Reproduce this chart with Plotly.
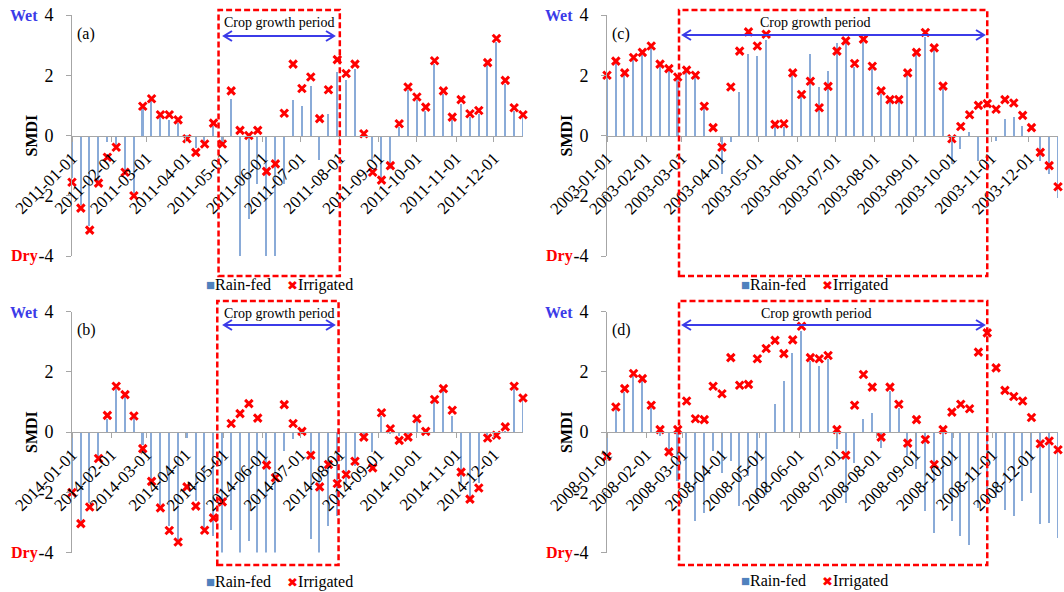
import plotly.graph_objects as go
import pandas as pd

# ---------------- data (weekly SMDI, 52 weeks per year) ----------------
years = {"a": 2011, "b": 2014, "c": 2003, "d": 2008}

a_rainfed = [-1.4, -2.3, -3.0, -1.5, -0.2, -0.3, -1.2, -1.9, 0.9, 1.15,
             0.6, 0.5, 0.4, -0.05, -0.4, -0.2, 0.3, -0.3, 1.22, -4.0,
             -2.78, -1.6, -4.0, -4.0, -1.61, 1.19, 0.97, 1.63, -0.8, 0.7,
             2.1, 1.83, 2.22, 0.0, -0.85, -1.45, -1.1, 0.28, 1.5, 1.17,
             0.83, 2.39, 1.39, 0.5, 1.05, 0.6, 0.72, 2.33, 3.1, 1.72,
             0.83, 0.6]
a_irrigated = [-1.55, -2.41, -3.14, -1.58, -0.72, -0.39, -1.22, -2.0, 0.97, 1.22,
               0.69, 0.69, 0.52, -0.11, -0.56, -0.28, 0.41, -0.28, 1.48, 0.17,
               0.0, 0.17, -1.19, -0.94, 0.74, 2.37, 1.56, 1.94, 0.56, 1.52,
               2.52, 2.06, 2.37, 0.06, -1.22, -1.48, -1.0, 0.39, 1.61, 1.28,
               0.94, 2.48, 1.48, 0.61, 1.19, 0.72, 0.83, 2.42, 3.22, 1.83,
               0.92, 0.69]

b_rainfed = [-1.94, -2.94, -2.33, -0.83, 0.45, 1.45, 1.17, 0.5, -0.4, -1.67,
             -2.39, -3.11, -3.56, -0.17, -2.28, -3.17, -3.44, -4.0, -3.22, -4.0,
             -3.61, -4.0, -4.0, -4.0, -0.61, -0.2, 0.05, -3.54, -4.0, -3.1,
             -2.76, -1.66, -1.1, -0.1, -0.66, 0.55, -0.05, -0.1, -0.05, 0.39,
             -0.05, 1.05, 1.38, 0.55, -1.66, -2.32, -1.66, -0.1, -0.05, 0.05,
             1.44, 1.1]
b_irrigated = [-2.01, -3.04, -2.49, -0.88, 0.55, 1.52, 1.24, 0.53, -0.55, -1.64,
               -2.52, -3.27, -3.65, -1.82, -2.46, -3.26, -2.85, -2.32, 0.28, 0.61,
               0.94, 0.46, -1.1, -1.52, 0.91, 0.28, 0.02, -0.77, -1.82, -1.08,
               -1.71, -1.41, -0.97, -0.17, -1.19, 0.64, 0.11, -0.28, -0.17, 0.44,
               0.02, 1.08, 1.44, 0.72, -1.33, -2.23, -1.86, -0.2, -0.11, 0.17,
               1.52, 1.13]

c_rainfed = [1.95, 2.4, 2.0, 2.5, 2.67, 2.9, 2.33, 2.17, 1.9, 2.1,
             1.95, 0.95, 0.0, -1.28, -0.22, 1.44, 2.72, 2.63, 3.17, 0.28,
             0.28, 2.0, 1.28, 2.69, 1.61, 2.14, 3.06, 3.11, 2.28, 3.11,
             2.22, 1.39, 1.17, 1.17, 2.0, 2.67, 3.28, 2.83, 1.56, -0.94,
             -0.44, 0.11, -0.83, -0.1, -0.17, 0.56, 0.61, 0.3, 0.0, -0.83,
             -1.28, -2.06]
c_irrigated = [2.0, 2.47, 2.08, 2.59, 2.76, 2.97, 2.37, 2.22, 1.94, 2.17,
               2.0, 0.97, 0.26, -0.39, 1.61, 2.8, 3.44, 2.97, 3.36, 0.37,
               0.39, 2.08, 1.36, 1.8, 0.92, 1.63, 2.8, 3.14, 2.39, 3.2,
               2.3, 1.48, 1.19, 1.19, 2.08, 2.76, 3.42, 2.91, 1.64, -0.11,
               0.3, 0.69, 1.0, 1.06, 0.87, 1.19, 1.08, 0.67, 0.26, -0.56,
               -1.0, -1.7]

d_rainfed = [-0.72, 0.77, 1.33, 1.88, 1.71, 0.83, -0.1, -0.6, -1.6, -1.78,
             -2.94, -2.67, -0.6, -1.33, -0.94, -2.44, -1.44, -2.28, -2.06, 0.96,
             1.71, 2.65, 3.37, 2.38, 2.21, 2.43, -0.55, -2.33, -1.0, 0.44,
             0.66, -0.5, 1.38, 0.83, -0.78, -1.22, -2.61, -3.33, -2.2, -2.94,
             -3.44, -3.72, -2.5, -2.0, -2.17, -2.56, -2.78, -2.28, -2.0, -3.03,
             -3.0, -3.5]
d_irrigated = [-0.81, 0.83, 1.44, 1.94, 1.77, 0.89, 0.08, -0.66, 0.08, 1.03,
               0.44, 0.41, 1.52, 1.27, 2.47, 1.55, 1.58, 2.43, 2.77, 3.04,
               2.6, 3.06, 3.51, 2.47, 2.43, 2.54, 0.08, -0.77, 0.89, 1.91,
               1.49, -0.17, 1.49, 0.92, -0.37, 0.41, -0.25, -1.08, 0.08, 0.66,
               0.92, 0.77, 2.65, 3.29, 2.13, 1.38, 1.18, 1.03, 0.48, -0.39,
               -0.3, -0.59]

growth = {"a": ("2011-04-27", "2011-08-01"),
          "b": ("2014-04-26", "2014-07-31"),
          "c": ("2003-02-27", "2003-10-29"),
          "d": ("2008-02-27", "2008-10-28")}

series = {"a": (a_rainfed, a_irrigated), "b": (b_rainfed, b_irrigated),
          "c": (c_rainfed, c_irrigated), "d": (d_rainfed, d_irrigated)}

y_ticks = [-4, -2, 0, 2, 4]
y_ticktext = ["-4", "-2", "0", "2", "4"]

# ---------------- layout helpers ----------------
# the page body margin is removed by the post script, so the figure fills the window
OFF = 0
W, H = 1064 - OFF, 592 - OFF
def px(x):
    return (x - OFF) / W
def py(y):
    return 1 - (y - OFF) / H

SERIF = "Liberation Serif, Times New Roman, serif"
BAR_COLOR = "#8AABD8"
RED = "#FF0000"
BLUE = "#3B3BE8"
AXIS_GREY = "#A6A6A6"

# panel geometry in window pixels: x-left, x-right, y-top(4), y-bottom(-4), y-zero
geo = {"a": (72, 523, 15, 256, 135.5),
       "c": (607, 1058, 15, 256, 135.5),
       "b": (72, 523, 311.5, 552.5, 432),
       "d": (607, 1058, 311.5, 552.5, 432)}
axis_id = {"a": "", "c": "2", "b": "3", "d": "4"}
box_py = {"a": (10, 276), "c": (10, 276), "b": (301, 565), "d": (301, 565)}
arrow_px = {"a": (224, 334, 36), "c": (683, 984, 35), "b": (224, 334, 325), "d": (683, 984, 325)}
ctext_px = {"a": (279, 22), "c": (815, 22), "b": (279, 313), "d": (816, 313)}
legend_px = {"a": (279, 285), "c": (814, 285), "b": (279, 582), "d": (814, 581)}

fig = go.Figure()
layout_axes = {}
shapes = []
annotations = []

def note(text, x, y, size, color="black", angle=0):
    return dict(text=text, x=px(x), y=py(y), xref="paper", yref="paper",
                xanchor="center", yanchor="middle", showarrow=False, textangle=angle,
                font=dict(family=SERIF, size=size, color=color))

for key in ["a", "c", "b", "d"]:
    year = years[key]
    dates = pd.date_range(f"{year}-01-01", periods=52, freq="7D")
    rain, irr = series[key]
    aid = axis_id[key]
    xl, xr, yt, yb, yz = geo[key]

    fig.add_trace(go.Bar(
        x=dates, y=rain, name="Rain-fed", xaxis="x" + aid, yaxis="y" + aid,
        width=1.2 * 86400000, marker=dict(color=BAR_COLOR, line=dict(width=0)),
        showlegend=False))
    fig.add_trace(go.Scatter(
        x=dates, y=irr, name="Irrigated", mode="markers", xaxis="x" + aid, yaxis="y" + aid,
        marker=dict(symbol="x-thin", size=7.5, color=RED, line=dict(width=3, color=RED)),
        cliponaxis=False, showlegend=False))

    months = [f"{year}-{m:02d}-01" for m in range(1, 13)]
    layout_axes["xaxis" + aid] = dict(
        type="date", domain=[px(xl), px(xr)], anchor="free", position=py(yz),
        range=[dates[0], dates[-1]], tickvals=months, tickformat="%Y-%m-%d",
        tickangle=-45, showline=True, linecolor=AXIS_GREY, linewidth=1,
        ticks="outside", ticklen=5, tickcolor=AXIS_GREY, showgrid=False, zeroline=False,
        automargin=False, ticklabeloverflow="allow",
        tickfont=dict(family=SERIF, size=17, color="black"), fixedrange=True)
    layout_axes["yaxis" + aid] = dict(
        domain=[py(yb), py(yt)], anchor="x" + aid, range=[-4, 4],
        tickvals=y_ticks, ticktext=y_ticktext, showline=True, linecolor=AXIS_GREY,
        linewidth=1, ticks="outside", ticklen=5, tickcolor=AXIS_GREY,
        showgrid=False, zeroline=False, ticklabelstandoff=9, automargin=False,
        ticklabeloverflow="allow",
        tickfont=dict(family=SERIF, size=18, color="black"), fixedrange=True)

    # crop growth period box
    g0, g1 = growth[key]
    b0, b1 = box_py[key]
    shapes.append(dict(type="rect", xref="x" + aid, yref="paper", x0=g0, x1=g1,
                       y0=py(b1), y1=py(b0), line=dict(color=RED, width=2.5, dash="6px,3px"),
                       fillcolor="rgba(0,0,0,0)", layer="above"))
    # double-headed arrow
    al, ar, ay = arrow_px[key]
    path = (f"M{px(al + 8)},{py(ay - 5)} L{px(al)},{py(ay)} L{px(al + 8)},{py(ay + 5)} "
            f"M{px(al)},{py(ay)} L{px(ar)},{py(ay)} "
            f"M{px(ar - 8)},{py(ay - 5)} L{px(ar)},{py(ay)} L{px(ar - 8)},{py(ay + 5)}")
    shapes.append(dict(type="path", xref="paper", yref="paper", path=path,
                       line=dict(color=BLUE, width=2)))
    cx, cy = ctext_px[key]
    annotations.append(note("Crop growth period", cx, cy, 14))
    annotations.append(note(f"({key})", xl + 14, yt + 19, 16))
    annotations.append(note("<b>Wet</b>", xl - 48, yt + 1, 16, BLUE))
    annotations.append(note("<b>Dry</b>", xl - 48, yb, 16, RED))
    annotations.append(note("<b>SMDI</b>", xl - 41, yz, 16, angle=-90))
    lx, ly = legend_px[key]
    legend_text = ("<span style='color:#4F81BD;font-size:15px'>■</span>Rain-fed"
                   "&nbsp;&nbsp;&nbsp;&nbsp;<span style='color:#FF0000;font-size:13px'>✖</span>Irrigated")
    annotations.append(note(legend_text, lx, ly, 16))

fig.update_layout(
    width=W, height=H, margin=dict(l=0, r=0, t=0, b=0, autoexpand=False),
    paper_bgcolor="white", plot_bgcolor="white",
    bargap=0, showlegend=False,
    shapes=shapes, annotations=annotations,
    **layout_axes)

fig.write_html("out.html", config={"displayModeBar": False},
               post_script="document.body.style.margin='0px';document.body.style.overflow='hidden';")
